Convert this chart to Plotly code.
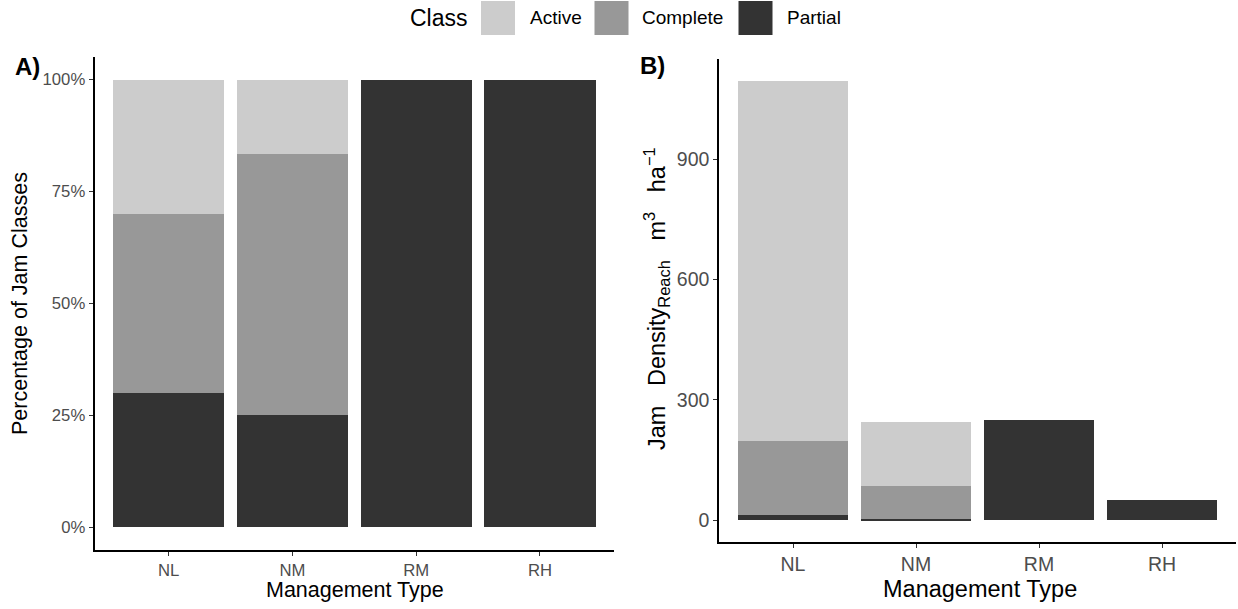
import plotly.graph_objects as go

# Figure size in pixels
W, H = 1238, 609

# ---- data -------------------------------------------------------------
management = ["NL", "NM", "RM", "RH"]

# percentage of jam classes per management type
pct_partial = [30, 25, 100, 100]
pct_complete = [40, 58.33, 0, 0]
pct_active = [30, 16.67, 0, 0]

# jam density at reach scale (m3 ha-1)
dens_partial = [12, 3, 250, 50]
dens_complete = [184, 81, 0, 0]
dens_active = [900, 160, 0, 0]

pct_ticks = [0, 25, 50, 75, 100]
pct_ticktext = ["0%", "25%", "50%", "75%", "100%"]
dens_ticks = [0, 300, 600, 900]

# ---- styling ----------------------------------------------------------
FONT = "Liberation Sans, Arial, sans-serif"
class_colors = {"Active": "#CCCCCC", "Complete": "#989898", "Partial": "#333333"}
stack_order = ["Partial", "Complete", "Active"]      # bottom to top
legend_order = ["Active", "Complete", "Partial"]

pct_by_class = {"Partial": pct_partial, "Complete": pct_complete, "Active": pct_active}
dens_by_class = {"Partial": dens_partial, "Complete": dens_complete, "Active": dens_active}


def px_x(x):
    return x / W


def px_y(y):
    return (H - y) / H


fig = go.Figure()

for cls in stack_order:
    fig.add_trace(go.Bar(
        x=management, y=pct_by_class[cls], name=cls,
        marker=dict(color=class_colors[cls], line=dict(width=0)),
        xaxis="x", yaxis="y", showlegend=False,
    ))
    fig.add_trace(go.Bar(
        x=management, y=dens_by_class[cls], name=cls,
        marker=dict(color=class_colors[cls], line=dict(width=0)),
        xaxis="x2", yaxis="y2", showlegend=False,
    ))

dens_total = max(p + c + a for p, c, a in zip(dens_partial, dens_complete, dens_active))

axis_common = dict(
    showline=True, linecolor="black", linewidth=1.8, mirror=False,
    ticks="outside", ticklen=4, tickwidth=1.4, tickcolor="#333333",
    showgrid=False, zeroline=False, automargin=False, fixedrange=True,
)

fig.update_layout(
    width=W, height=H,
    margin=dict(l=0, r=0, t=0, b=0),
    template="none",
    paper_bgcolor="white", plot_bgcolor="white",
    barmode="stack", bargap=0.1,
    font=dict(family=FONT, color="black"),
    showlegend=False,
    xaxis=dict(
        domain=[px_x(94.5), px_x(614.2)], anchor="y",
        type="category", range=[-0.6, 3.6],
        tickfont=dict(size=16.7, color="#4D4D4D", family=FONT),
        **axis_common,
    ),
    yaxis=dict(
        domain=[px_y(549.7), px_y(57.2)], anchor="x",
        range=[-5, 105], tickvals=pct_ticks, ticktext=pct_ticktext,
        tickfont=dict(size=16.7, color="#4D4D4D", family=FONT),
        **axis_common,
    ),
    xaxis2=dict(
        domain=[px_x(719.2), px_x(1235.8)], anchor="y2",
        type="category", range=[-0.6, 3.6],
        tickfont=dict(size=19.5, color="#4D4D4D", family=FONT),
        **axis_common,
    ),
    yaxis2=dict(
        domain=[px_y(542.0), px_y(58.8)], anchor="x2",
        range=[-0.05 * dens_total, 1.05 * dens_total], tickvals=dens_ticks,
        tickfont=dict(size=19.5, color="#4D4D4D", family=FONT),
        **axis_common,
    ),
)

annotations = []

# axis titles
annotations.append(dict(
    text="Management Type", x=px_x(354.5), y=px_y(590), xref="paper", yref="paper",
    xanchor="center", yanchor="middle", showarrow=False,
    font=dict(size=21.5, color="black", family=FONT),
))
annotations.append(dict(
    text="Percentage of Jam Classes", x=px_x(20), y=px_y(304), xref="paper", yref="paper",
    xanchor="center", yanchor="middle", showarrow=False, textangle=-90,
    font=dict(size=21.5, color="black", family=FONT),
))
annotations.append(dict(
    text="Management Type", x=px_x(980), y=px_y(589), xref="paper", yref="paper",
    xanchor="center", yanchor="middle", showarrow=False,
    font=dict(size=23.5, color="black", family=FONT),
))
annotations.append(dict(
    text="Jam&nbsp;&nbsp;&nbsp;Density<sub>Reach</sub>&nbsp;&nbsp;&nbsp;m<sup>3</sup>&nbsp;&nbsp;&nbsp;ha<sup>\u22121</sup>",
    x=px_x(656), y=px_y(299), xref="paper", yref="paper",
    xanchor="center", yanchor="middle", showarrow=False, textangle=-90,
    font=dict(size=23.5, color="black", family=FONT),
))

# panel tags
annotations.append(dict(
    text="<b>A)</b>", x=px_x(13), y=px_y(67), xref="paper", yref="paper",
    xanchor="left", yanchor="middle", showarrow=False,
    font=dict(size=24, color="black", family=FONT),
))
annotations.append(dict(
    text="<b>B)</b>", x=px_x(638), y=px_y(66), xref="paper", yref="paper",
    xanchor="left", yanchor="middle", showarrow=False,
    font=dict(size=24, color="black", family=FONT),
))

# legend drawn at the top centre
annotations.append(dict(
    text="Class", x=px_x(408), y=px_y(18), xref="paper", yref="paper",
    xanchor="left", yanchor="middle", showarrow=False,
    font=dict(size=23, color="black", family=FONT),
))
key_left = {"Active": 481, "Complete": 594.5, "Partial": 738.5}
label_left = {"Active": 527.5, "Complete": 639.5, "Partial": 785}
shapes = []
for cls in legend_order:
    x0 = key_left[cls]
    shapes.append(dict(
        type="rect", xref="paper", yref="paper",
        x0=px_x(x0), x1=px_x(x0 + 34), y0=px_y(35), y1=px_y(1),
        fillcolor=class_colors[cls], line=dict(width=0),
    ))
    annotations.append(dict(
        text=cls, x=px_x(label_left[cls]), y=px_y(18), xref="paper", yref="paper",
        xanchor="left", yanchor="middle", showarrow=False,
        font=dict(size=19, color="black", family=FONT),
    ))

fig.update_layout(annotations=annotations, shapes=shapes)

fig.write_html("out.html")
